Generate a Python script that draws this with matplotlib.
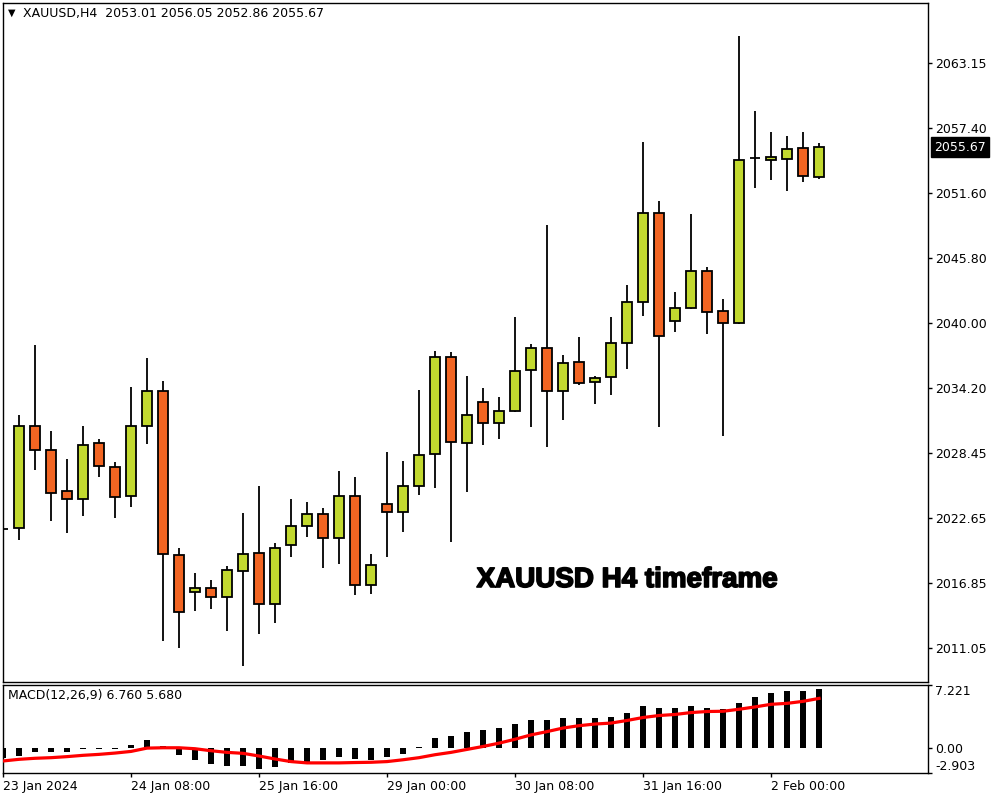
import matplotlib
matplotlib.use("Agg")
import matplotlib.pyplot as plt
import matplotlib.patheffects as pe
import numpy as np

# OHLC, XAUUSD H4
opens = [2021.70, 2021.72, 2030.80, 2028.66, 2025.01, 2024.30, 2029.29, 2027.15, 2024.57, 2030.80,
         2033.92, 2019.31, 2016.02, 2016.38, 2015.57, 2017.89, 2019.49, 2014.95, 2020.20, 2021.90,
         2022.97, 2020.83, 2024.57, 2016.64, 2023.86, 2023.20, 2025.46, 2028.31, 2036.95, 2029.29,
         2032.94, 2031.07, 2032.14, 2035.79, 2037.75, 2033.92, 2036.50, 2034.72, 2035.16, 2038.19,
         2041.84, 2049.77, 2040.15, 2041.31, 2044.60, 2041.04, 2039.97, 2054.67, 2054.49, 2054.58,
         2055.56, 2053.01]
highs = [2023.20, 2031.81, 2038.04, 2030.38, 2027.89, 2030.80, 2029.67, 2027.62, 2034.30, 2036.88,
         2034.84, 2019.94, 2017.71, 2017.09, 2018.33, 2023.08, 2025.49, 2020.38, 2024.33, 2024.06,
         2023.50, 2026.82, 2026.29, 2019.43, 2028.51, 2027.71, 2034.03, 2037.48, 2037.39, 2035.28,
         2034.19, 2033.41, 2040.53, 2038.10, 2048.73, 2037.15, 2038.75, 2035.25, 2040.53, 2043.38,
         2056.12, 2050.86, 2042.76, 2049.71, 2044.99, 2042.14, 2065.56, 2058.88, 2057.01, 2056.65,
         2057.01, 2056.05]
lows = [2019.50, 2020.70, 2026.94, 2022.40, 2021.33, 2022.84, 2026.31, 2022.66, 2023.64, 2029.25,
        2011.71, 2011.09, 2014.38, 2014.51, 2012.60, 2009.48, 2012.33, 2013.31, 2019.19, 2020.97,
        2018.21, 2018.57, 2015.81, 2015.89, 2019.19, 2021.42, 2024.71, 2025.33, 2020.47, 2024.98,
        2029.16, 2029.70, 2032.05, 2030.77, 2028.99, 2031.39, 2034.45, 2032.76, 2033.56, 2035.93,
        2040.65, 2030.77, 2039.23, 2041.22, 2038.99, 2029.96, 2039.88, 2052.05, 2052.76, 2051.78,
        2052.58, 2052.86]
closes = [2021.66, 2030.80, 2028.66, 2024.84, 2024.30, 2029.11, 2027.24, 2024.48, 2030.80, 2033.92,
          2019.40, 2014.24, 2016.38, 2015.57, 2017.98, 2019.40, 2014.95, 2019.94, 2021.90, 2022.97,
          2020.83, 2024.57, 2016.64, 2018.42, 2023.14, 2025.46, 2028.22, 2036.95, 2029.38, 2031.78,
          2031.07, 2032.14, 2035.70, 2037.75, 2033.92, 2036.41, 2034.63, 2035.08, 2038.19, 2041.84,
          2049.77, 2038.82, 2041.31, 2044.60, 2040.95, 2039.97, 2054.49, 2054.67, 2054.76, 2055.47,
          2053.06, 2055.67]

# MACD(12,26,9): histogram (main line) and signal
macd_main = [-1.14, -0.98, -0.53, -0.53, -0.53, -0.11, -0.11, -0.10, 0.30, 0.91,
             0.23, -0.87, -1.44, -1.89, -2.12, -2.12, -2.46, -2.23, -1.74, -1.78,
             -1.44, -1.10, -1.33, -1.44, -1.10, -0.68, 0.08, 1.14, 1.36, 1.82,
             2.05, 2.27, 2.73, 3.18, 3.18, 3.41, 3.41, 3.41, 3.52, 3.98,
             4.77, 4.55, 4.55, 4.77, 4.55, 4.43, 5.11, 5.80, 6.25, 6.48,
             6.48, 6.76]
macd_signal = [-1.52, -1.33, -1.21, -1.14, -1.02, -0.87, -0.76, -0.61, -0.42, -0.04,
               0.00, 0.00, -0.11, -0.34, -0.53, -0.64, -0.95, -1.29, -1.59, -1.74,
               -1.74, -1.74, -1.70, -1.67, -1.59, -1.38, -1.14, -0.80, -0.53, -0.19,
               0.15, 0.53, 0.98, 1.48, 1.86, 2.27, 2.54, 2.73, 2.84, 3.14,
               3.48, 3.71, 3.83, 4.05, 4.17, 4.20, 4.43, 4.70, 5.00, 5.11,
               5.34, 5.68]

price_ticks = [2063.15, 2057.40, 2051.60, 2045.80, 2040.00, 2034.20, 2028.45, 2022.65, 2016.85, 2011.05]
macd_ticks = [7.221, 0.0, -2.903]
macd_tick_labels = ["7.221", "0.00", "-2.903"]
time_labels = ["23 Jan 2024", "24 Jan 08:00", "25 Jan 16:00", "29 Jan 00:00",
               "30 Jan 08:00", "31 Jan 16:00", "2 Feb 00:00"]

bull = "#c2d92f"
bear = "#f26522"

o = np.array(opens)
c = np.array(closes)
x = np.arange(len(o))
cols = np.where(c >= o, bull, bear)

plt.rcParams["font.family"] = "DejaVu Sans"

fig = plt.figure(figsize=(10, 8), dpi=100)
ax = fig.add_axes([0.003, 1 - 682 / 800, 0.925, 679 / 800])
ax2 = fig.add_axes([0.003, 1 - 773 / 800, 0.925, 88 / 800])

# candles
ax.vlines(x, lows, highs, color="black", lw=1.3, zorder=1)
ax.bar(x, np.abs(c - o), bottom=np.minimum(o, c), width=0.62, color=cols,
       edgecolor="black", linewidth=1.3, zorder=2)
ax.set_xlim(0, 57.81)
ax.set_ylim(2008.03, 2068.50)
ax.set_xticks([])
ax.yaxis.tick_right()
ax.set_yticks(price_ticks)
ax.set_yticklabels(["%.2f" % v for v in price_ticks])
ax.tick_params(axis="y", direction="out", length=3, width=1, labelsize=9, pad=2)

ax.text(1.0065, 2055.67, "2055.67", transform=ax.get_yaxis_transform(), ha="left",
        va="center", color="white", fontsize=9,
        bbox=dict(boxstyle="square,pad=0.25", fc="black", ec="black"))

fig.text(0.012, 1 - 13 / 800, "\u25bc", fontsize=7, ha="center", va="center")
fig.text(0.023, 1 - 13 / 800, "XAUUSD,H4  2053.01 2056.05 2052.86 2055.67",
         fontsize=9, ha="left", va="center")

fig.text(0.627, 1 - 580 / 800, "XAUUSD H4 timeframe", ha="center", va="center",
         fontsize=20, fontweight="bold", family="Liberation Sans",
         path_effects=[pe.withStroke(linewidth=1.2, foreground="black")])

# MACD panel
ax2.bar(x, macd_main, width=0.4, color="black", zorder=2)
ax2.plot(x, macd_signal, color="#ff0000", lw=2.3, zorder=3)
ax2.set_xlim(0, 57.81)
ax2.set_ylim(-2.903, 7.221)
ax2.yaxis.tick_right()
ax2.set_yticks(macd_ticks)
ax2.set_yticklabels(macd_tick_labels)
ax2.tick_params(axis="y", direction="out", length=3, width=1, labelsize=9, pad=2)
lbls = ax2.get_yticklabels()
lbls[0].set_va("top")
lbls[2].set_va("bottom")
ax2.set_xticks(np.arange(0, len(o), 8))
ax2.set_xticklabels(time_labels, ha="left")
ax2.tick_params(axis="x", direction="out", length=3, width=1, labelsize=9, pad=2)
fig.text(0.008, 1 - 696 / 800, "MACD(12,26,9) 6.760 5.680", fontsize=9, ha="left", va="center")

for a in (ax, ax2):
    for s in a.spines.values():
        s.set_linewidth(1)
        s.set_color("black")

fig.savefig("out.png", dpi=100, facecolor="white")
